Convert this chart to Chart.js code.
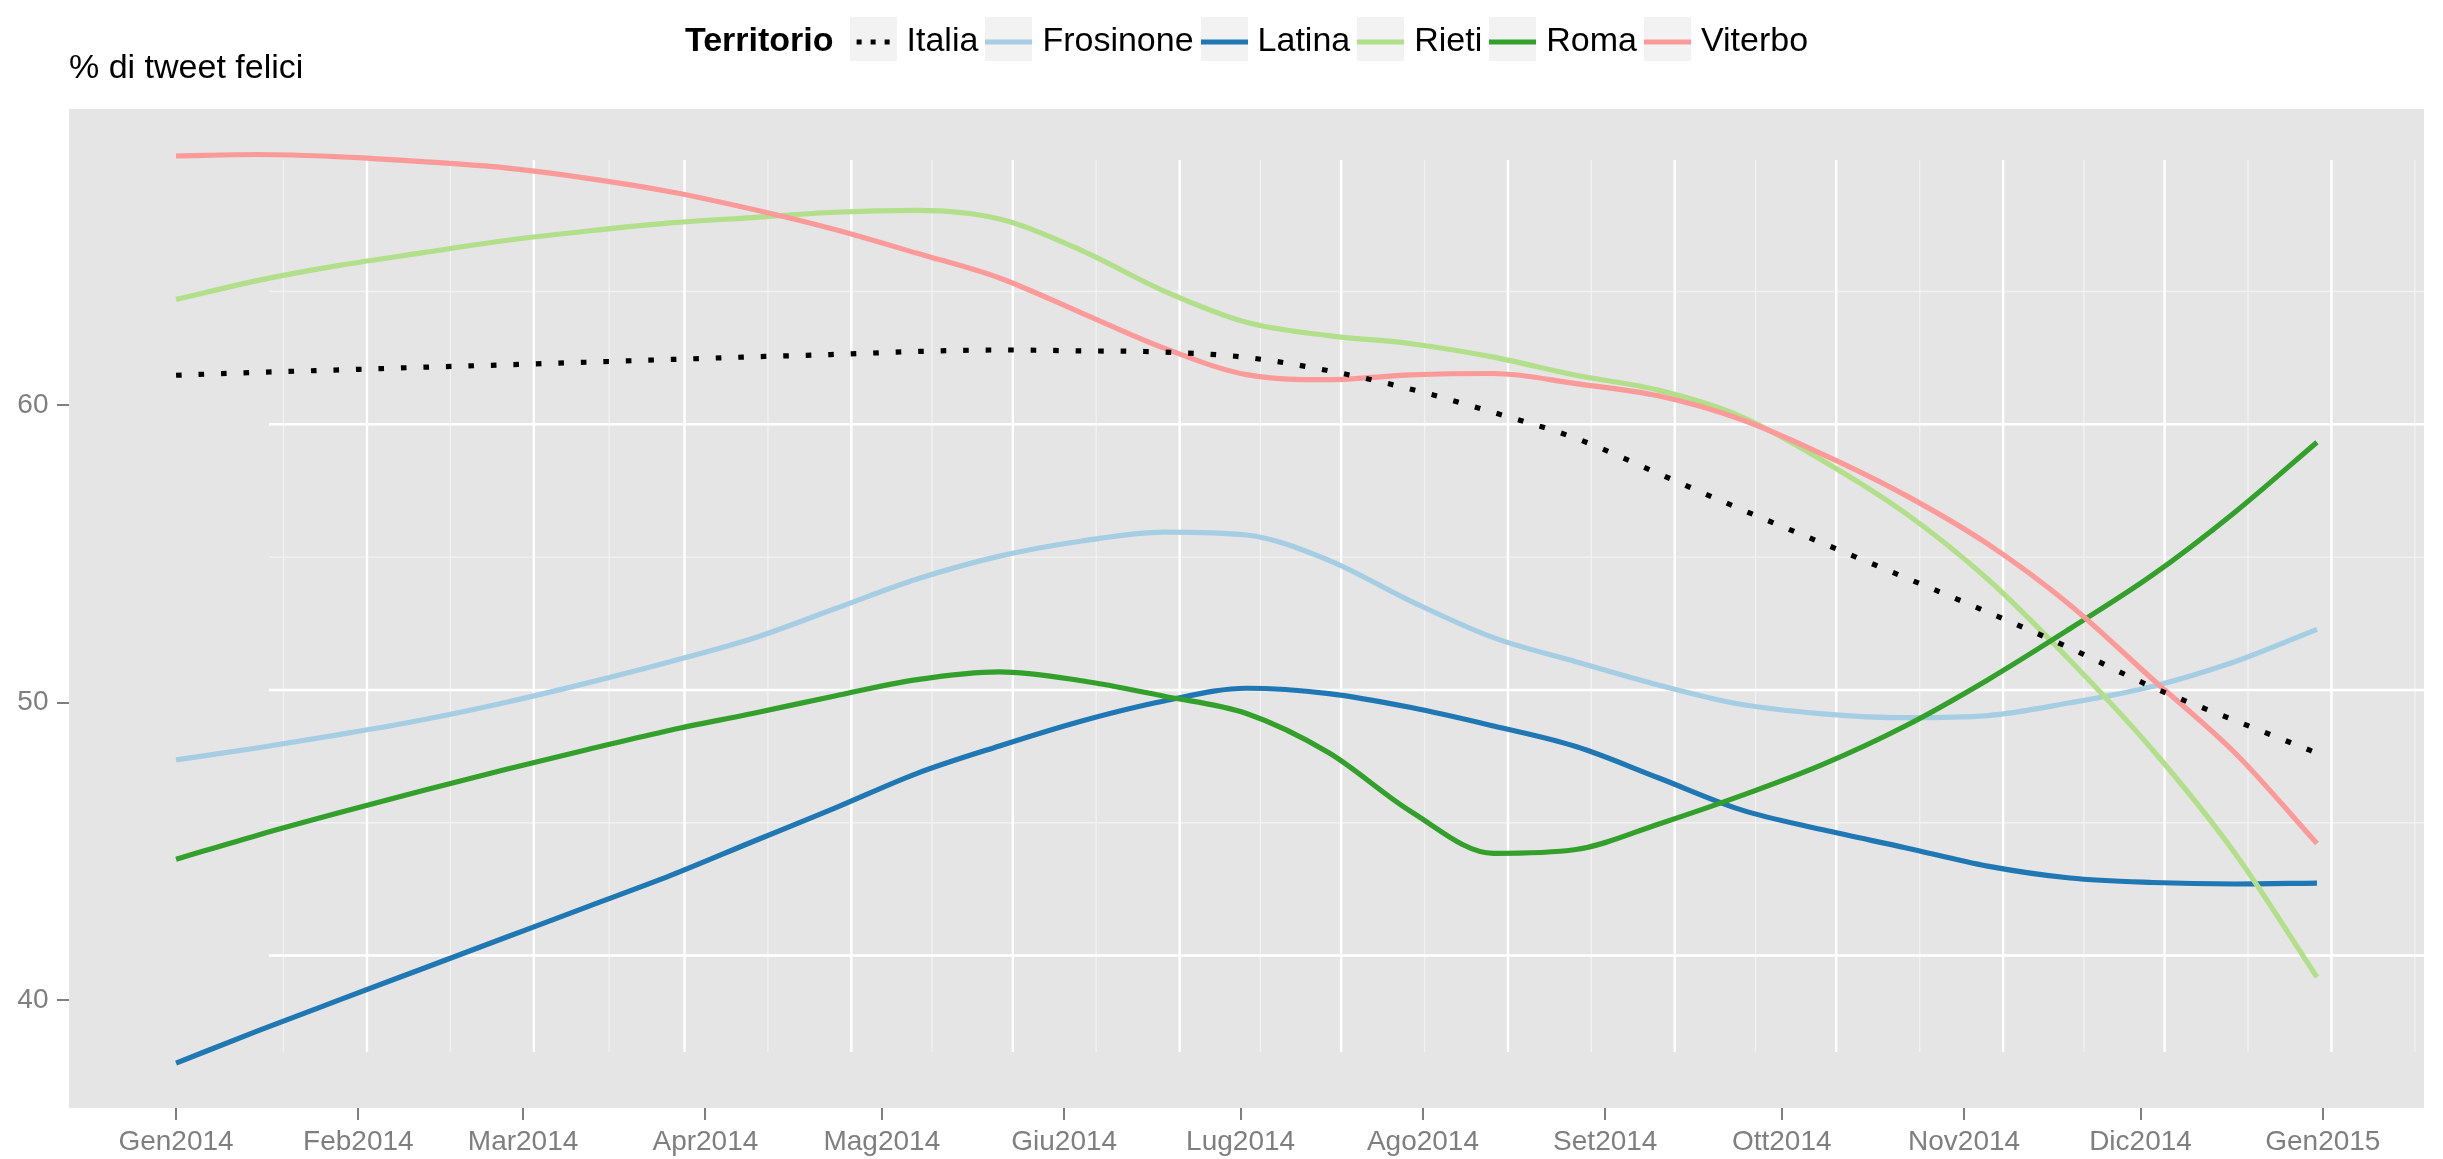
<!DOCTYPE html>
<html lang="it">
<head>
  <meta charset="UTF-8" />
  <title>% di tweet felici</title>
  <script src="https://cdn.jsdelivr.net/npm/chart.js@4"></script>
  <style>
    html, body { margin: 0; padding: 0; background: #fff; }
    canvas { display: block; }
  </style>
</head>
<body>
  <canvas id="chart" width="2443" height="1159"></canvas>
  <script>
    // days since 1 Jan 2014 where the smoothed curves are sampled
    const days = [0, 14, 28, 42, 56, 70, 84, 98, 112, 126, 140, 154, 168, 182, 196,
                  210, 224, 238, 252, 266, 280, 294, 308, 322, 336, 350, 364];

    const italia    = [61.0, 61.1, 61.18, 61.27, 61.35, 61.44, 61.53, 61.62, 61.7, 61.8, 61.85, 61.82, 61.78, 61.6,
                       61.15, 60.53, 59.75, 58.88, 57.7, 56.5, 55.35, 54.2, 53.04, 51.83, 50.52, 49.4, 48.3];
    const frosinone = [48.07, 48.48, 48.93, 49.42, 50.0, 50.66, 51.37, 52.15, 53.15, 54.15, 54.92, 55.43, 55.73, 55.63,
                       54.78, 53.4, 52.18, 51.37, 50.59, 49.94, 49.62, 49.49, 49.56, 49.99, 50.54, 51.37, 52.46];
    const latina    = [37.88, 38.97, 40.02, 41.06, 42.1, 43.14, 44.18, 45.32, 46.45, 47.62, 48.54, 49.38, 50.05, 50.48,
                       50.3, 49.83, 49.21, 48.52, 47.47, 46.4, 45.72, 45.12, 44.5, 44.1, 43.95, 43.9, 43.93];
    const rieti     = [63.55, 64.19, 64.7, 65.12, 65.53, 65.85, 66.12, 66.3, 66.48, 66.54, 66.25, 65.19, 63.83, 62.78,
                       62.33, 62.06, 61.61, 61.0, 60.5, 59.62, 58.13, 56.37, 54.15, 51.42, 48.42, 44.95, 40.77];
    const roma      = [44.73, 45.55, 46.31, 47.04, 47.75, 48.42, 49.07, 49.63, 50.22, 50.77, 51.03, 50.73, 50.21, 49.63,
                       48.31, 46.33, 44.93, 45.06, 45.91, 46.86, 47.92, 49.21, 50.76, 52.48, 54.28, 56.39, 58.75];
    const viterbo   = [68.37, 68.42, 68.34, 68.18, 67.97, 67.62, 67.17, 66.58, 65.9, 65.1, 64.27, 63.09, 61.91, 61.02,
                       60.85, 61.01, 61.06, 60.72, 60.31, 59.52, 58.34, 56.97, 55.33, 53.28, 50.79, 48.32, 45.26];

    const monthStarts = [0, 31, 59, 90, 120, 151, 181, 212, 243, 273, 304, 334, 365];
    const monthLabels = ['Gen2014', 'Feb2014', 'Mar2014', 'Apr2014', 'Mag2014', 'Giu2014', 'Lug2014',
                         'Ago2014', 'Set2014', 'Ott2014', 'Nov2014', 'Dic2014', 'Gen2015'];
    const yTicks = [40, 50, 60];

    const FONT = '"Liberation Sans", Arial, Helvetica, sans-serif';
    const LINE_W = 5.2;
    const GREY = '#7f7f7f';

    const pts = values => values.map((v, i) => ({ x: days[i], y: v }));

    // minor breaks half way between the major ones, one extra at each end
    function midpoints(ticks) {
      const out = [ticks[0] - (ticks[1] - ticks[0]) / 2];
      for (let i = 0; i < ticks.length - 1; i++) out.push((ticks[i] + ticks[i + 1]) / 2);
      const n = ticks.length;
      out.push(ticks[n - 1] + (ticks[n - 1] - ticks[n - 2]) / 2);
      return out;
    }

    // little grey key with a line sample, used as the legend point style
    function keyImage(color, dotted) {
      const c = document.createElement('canvas');
      c.width = 47;
      c.height = 50;
      const g = c.getContext('2d');
      g.fillStyle = '#f2f2f2';
      g.fillRect(0, 0, 47, 50);
      g.strokeStyle = color;
      g.lineWidth = LINE_W;
      g.beginPath();
      if (dotted) {
        g.setLineDash([5, 9]);
        g.moveTo(7, 25);
      } else {
        g.moveTo(0, 25);
      }
      g.lineTo(47, 25);
      g.stroke();
      return c;
    }

    // grey panel plus its white grid, drawn inside an inset box of the plot area
    const panelGrid = {
      id: 'panelGrid',
      beforeDraw(chart, args, opts) {
        const { ctx, chartArea: ca, scales: { x, y } } = chart;
        ctx.save();
        ctx.fillStyle = opts.background;
        ctx.fillRect(ca.left, ca.top, ca.width, ca.height);

        const g = {
          left: ca.left + opts.inset.left,
          top: ca.top + opts.inset.top,
          right: ca.right - opts.inset.right,
          bottom: ca.bottom - opts.inset.bottom
        };
        const gw = g.right - g.left;
        const gh = g.bottom - g.top;
        const gx = v => g.left + (x.getPixelForValue(v) - ca.left) / ca.width * gw;
        const gy = v => g.top + (y.getPixelForValue(v) - ca.top) / ca.height * gh;

        ctx.beginPath();
        ctx.rect(g.left, g.top, gw, gh);
        ctx.clip();

        const draw = (xs, ys, color, width) => {
          ctx.strokeStyle = color;
          ctx.lineWidth = width;
          ctx.beginPath();
          xs.forEach(v => { const px = gx(v); ctx.moveTo(px, g.top); ctx.lineTo(px, g.bottom); });
          ys.forEach(v => { const py = gy(v); ctx.moveTo(g.left, py); ctx.lineTo(g.right, py); });
          ctx.stroke();
        };
        draw(midpoints(monthStarts), midpoints(yTicks), opts.minorColor, opts.minorWidth);
        draw(monthStarts, yTicks, opts.majorColor, opts.majorWidth);
        ctx.restore();
      }
    };

    // bold legend title sitting on the same row as the keys
    const legendTitle = {
      id: 'legendTitle',
      afterLayout(chart, args, opts) {
        const lg = chart.legend;
        if (!lg || !lg.lineWidths) return;
        const ctx = chart.ctx;
        ctx.save();
        ctx.font = `bold ${opts.size}px ${FONT}`;
        const tw = ctx.measureText(opts.text).width;
        ctx.restore();
        const pad = lg.options.labels.padding;
        const lw = lg.lineWidths[0];
        const x0 = (lg.left + pad + lg.right - lw) / 2;
        const groupMid = (x0 - tw - opts.gap + x0 + lw - pad) / 2;
        const ca = chart.chartArea;
        const shift = (ca.left + ca.right) / 2 - groupMid;
        lg.left += shift;
        lg.right += shift;
      },
      afterDraw(chart, args, opts) {
        const hb = chart.legend && chart.legend.legendHitBoxes[0];
        if (!hb) return;
        const ctx = chart.ctx;
        ctx.save();
        ctx.font = `bold ${opts.size}px ${FONT}`;
        ctx.fillStyle = '#000';
        ctx.textAlign = 'right';
        ctx.textBaseline = 'middle';
        ctx.fillText(opts.text, hb.left - opts.gap, hb.top + hb.height / 2);
        ctx.restore();
      }
    };

    const series = [
      { label: 'Italia', values: italia, color: '#000000', dotted: true, order: 0 },
      { label: 'Frosinone', values: frosinone, color: '#a6cee3', order: 5 },
      { label: 'Latina', values: latina, color: '#1f78b4', order: 4 },
      { label: 'Rieti', values: rieti, color: '#b2df8a', order: 3 },
      { label: 'Roma', values: roma, color: '#33a02c', order: 2 },
      { label: 'Viterbo', values: viterbo, color: '#fb9a99', order: 1 }
    ];
    const keys = series.map(s => keyImage(s.color, s.dotted));

    const datasets = series.map(s => ({
      label: s.label,
      data: pts(s.values),
      borderColor: s.color,
      backgroundColor: s.color,
      borderWidth: LINE_W,
      borderDash: s.dotted ? [5.6, 16.9] : [],
      borderCapStyle: 'butt',
      order: s.order
    }));

    new Chart(document.getElementById('chart'), {
      type: 'line',
      data: { datasets },
      plugins: [panelGrid, legendTitle],
      options: {
        responsive: false,
        animation: false,
        devicePixelRatio: 1,
        layout: { padding: { top: 11, right: 19, bottom: 0, left: 0 } },
        elements: {
          point: { radius: 0 },
          line: { cubicInterpolationMode: 'monotone' }
        },
        scales: {
          x: {
            type: 'linear',
            min: -18.2,
            max: 382.2,
            afterBuildTicks: scale => { scale.ticks = monthStarts.map(v => ({ value: v })); },
            afterFit: scale => { scale.height = 51; },
            border: { display: false },
            grid: { drawOnChartArea: false, tickLength: 12, color: GREY, lineWidth: 2 },
            ticks: {
              autoSkip: false,
              maxRotation: 0,
              padding: 5,
              color: GREY,
              font: { family: FONT, size: 28 },
              callback: (value, index) => monthLabels[index]
            }
          },
          y: {
            min: 36.37,
            max: 69.95,
            afterBuildTicks: scale => { scale.ticks = yTicks.map(v => ({ value: v })); },
            afterFit: scale => { scale.width = 69; },
            border: { display: false },
            grid: { drawOnChartArea: false, tickLength: 12, color: GREY, lineWidth: 2 },
            ticks: {
              padding: 8.5,
              color: GREY,
              font: { family: FONT, size: 28 }
            }
          }
        },
        plugins: {
          legend: {
            position: 'top',
            weight: 3000,
            maxHeight: 50,
            labels: {
              usePointStyle: true,
              pointStyleWidth: 33,
              padding: 14,
              color: '#000',
              font: { family: FONT, size: 34 },
              generateLabels: chart => chart.data.datasets.map((ds, i) => ({
                text: ds.label,
                pointStyle: keys[i],
                fontColor: '#000',
                fillStyle: 'transparent',
                strokeStyle: 'transparent',
                lineWidth: 0,
                hidden: false,
                datasetIndex: i
              }))
            }
          },
          title: {
            display: true,
            text: '% di tweet felici',
            align: 'start',
            fullSize: false,
            color: '#000',
            font: { family: FONT, size: 34, weight: 'normal', lineHeight: 1 },
            // pulled up so it sits just under the legend row
            padding: { top: -9.5, bottom: 23.5 }
          },
          tooltip: { enabled: false },
          panelGrid: {
            background: '#e5e5e5',
            inset: { left: 200, top: 51, right: 0, bottom: 56 },
            majorColor: '#ffffff',
            majorWidth: 2.4,
            minorColor: '#f2f2f2',
            minorWidth: 1.3
          },
          legendTitle: { text: 'Territorio', size: 34, gap: 23 }
        }
      }
    });
  </script>
</body>
</html>
